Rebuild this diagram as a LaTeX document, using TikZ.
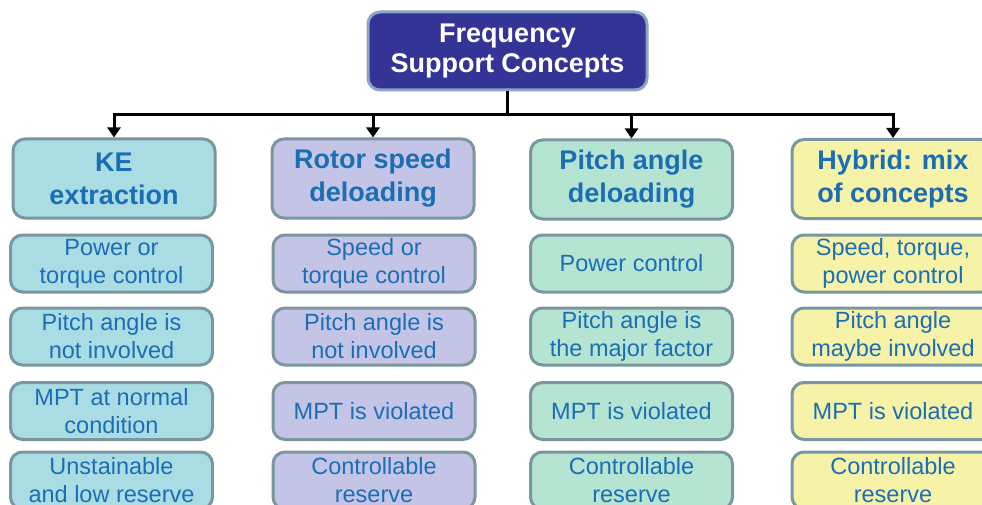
\documentclass[tikz,border=0pt]{standalone}
\usepackage{fontspec}
\setmainfont{Liberation Sans}
\usetikzlibrary{arrows.meta}
\definecolor{cA}{RGB}{170,220,228}
\definecolor{cB}{RGB}{196,196,230}
\definecolor{cC}{RGB}{182,228,210}
\definecolor{cD}{RGB}{246,242,168}
\definecolor{bord}{RGB}{122,150,158}
\definecolor{tblue}{RGB}{28,110,180}
\definecolor{topfill}{RGB}{52,52,150}
\definecolor{topbord}{RGB}{140,165,195}
\tikzset{
  basebox/.style={draw=bord, line width=3pt, rounded corners=12pt, align=center, inner sep=0pt, text=tblue},
  hdrbox/.style={basebox, minimum width=202pt, minimum height=79pt, font=\fontsize{27}{33}\selectfont\bfseries},
  subbox/.style={basebox, minimum width=202pt, minimum height=57pt, font=\fontsize{23.5}{28}\selectfont},
  topbox/.style={draw=topbord, fill=topfill, line width=3pt, rounded corners=12pt, align=center, inner sep=0pt,
    text=white, minimum width=279pt, minimum height=78pt, font=\fontsize{27}{30}\selectfont\bfseries},
  wire/.style={line width=3pt, draw=black},
  arr/.style={wire, -{Triangle[width=13pt,length=10pt]}}
}
\begin{document}
\begin{tikzpicture}[x=1pt,y=-1pt]
\clip (0,0) rectangle (982,505);
\fill[white] (0,0) rectangle (982,505);
% top
\node[topbox] (top) at (507.5,51) {Frequency\\Support Concepts};
\coordinate (bus) at (507.5,115);
% headers
\node[hdrbox, fill=cA] (h1) at (114,178.5) {KE\\extraction};
\node[hdrbox, fill=cB] (h2) at (373,178.5) {Rotor speed\\deloading};
\node[hdrbox, fill=cC] (h3) at (631.5,179.5) {Pitch angle\\deloading};
\node[hdrbox, fill=cD] (h4) at (893,179) {Hybrid: mix\\of concepts};
% column 1
\node[subbox, fill=cA] (a1) at (111.5,263.5) {Power or\\torque control};
\node[subbox, fill=cA] (a2) at (111.5,336.5) {Pitch angle is\\not involved};
\node[subbox, fill=cA] (a3) at (111.5,411) {MPT at normal\\condition};
\node[subbox, fill=cA] (a4) at (111.5,480.5) {Unstainable\\and low reserve};
% column 2
\node[subbox, fill=cB] (b1) at (374,263.5) {Speed or\\torque control};
\node[subbox, fill=cB] (b2) at (374,336.5) {Pitch angle is\\not involved};
\node[subbox, fill=cB] (b3) at (374,411) {MPT is violated};
\node[subbox, fill=cB] (b4) at (374,480.5) {Controllable\\reserve};
% column 3
\node[subbox, fill=cC] (c1) at (631.5,263.5) {Power control};
\node[subbox, fill=cC] (c2) at (631.5,336.5) {Pitch angle is\\the major factor};
\node[subbox, fill=cC] (c3) at (631.5,411) {MPT is violated};
\node[subbox, fill=cC] (c4) at (631.5,480.5) {Controllable\\reserve};
% column 4
\node[subbox, fill=cD] (d1) at (893,263.5) {Speed, torque,\\power control};
\node[subbox, fill=cD] (d2) at (893,336.5) {Pitch angle\\maybe involved};
\node[subbox, fill=cD] (d3) at (893,411) {MPT is violated};
\node[subbox, fill=cD] (d4) at (893,480.5) {Controllable\\reserve};
% connectors
\draw[wire] (top.south) -- (bus);
\draw[arr] (bus) -| (h1.north);
\draw[arr] (bus) -| (h2.north);
\draw[arr] (bus) -| (h3.north);
\draw[arr] (bus) -| (h4.north);
\end{tikzpicture}
\end{document}
